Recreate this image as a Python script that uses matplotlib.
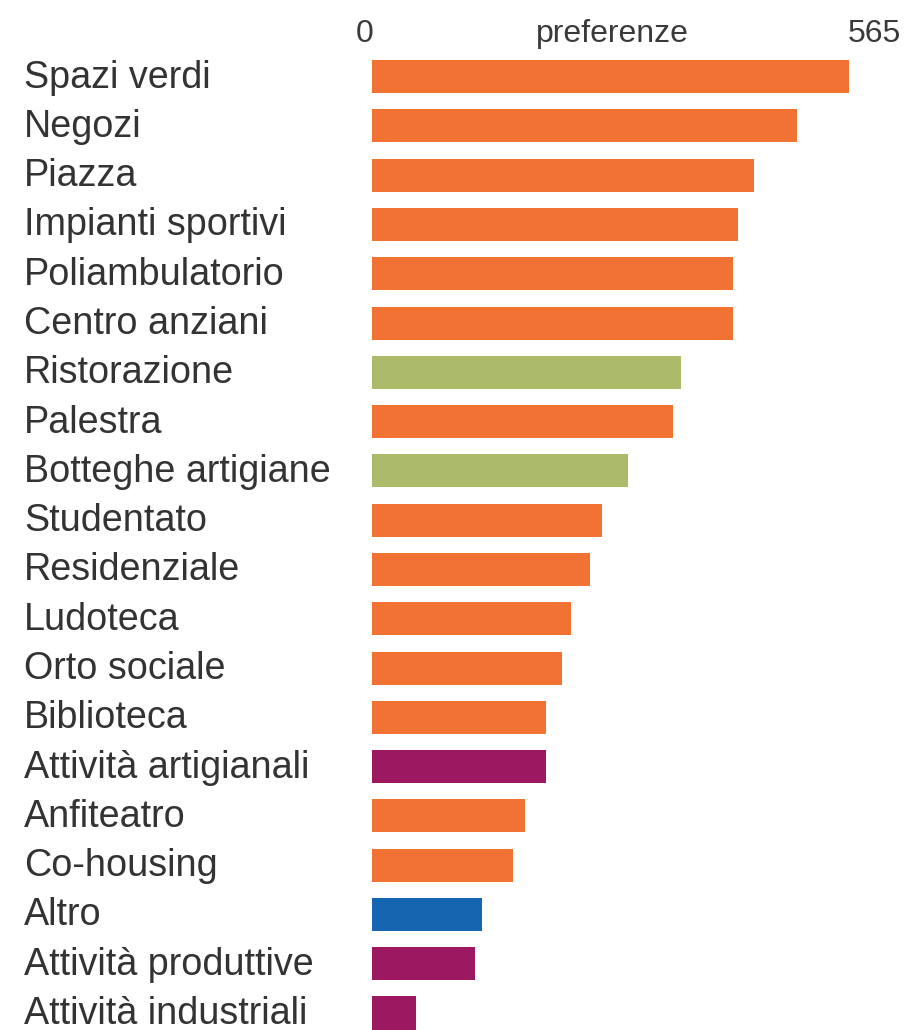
import numpy as np
import matplotlib.pyplot as plt

labels = ['Spazi verdi', 'Negozi', 'Piazza', 'Impianti sportivi', 'Poliambulatorio',
          'Centro anziani', 'Ristorazione', 'Palestra', 'Botteghe artigiane', 'Studentato',
          'Residenziale', 'Ludoteca', 'Orto sociale', 'Biblioteca', 'Attività artigianali',
          'Anfiteatro', 'Co-housing', 'Altro', 'Attività produttive', 'Attività industriali']
values = [565, 503, 452, 433, 428, 428, 366, 357, 303, 272,
          258, 236, 225, 206, 206, 181, 167, 130, 122, 52]
groups = ['s', 's', 's', 's', 's', 's', 'c', 's', 'c', 's',
          's', 's', 's', 's', 'p', 's', 's', 'a', 'p', 'p']
group_colors = {'s': '#F27234', 'c': '#ABBB69', 'p': '#9C1860', 'a': '#1565B0'}
max_val = 565

fig = plt.figure(figsize=(9.09, 10.30), dpi=100)
ax = fig.add_axes([372 / 909, 0, 477 / 909, 978 / 1030])

y = np.arange(len(labels))
ax.barh(y, values, height=0.67, color=[group_colors[g] for g in groups])
ax.set_xlim(0, max_val)
ax.set_ylim(19.345, -0.5)
ax.axis('off')

font = 'Liberation Sans'
# category labels sit at the left edge of the figure
for i, lab in enumerate(labels):
    ax.text(-(372 - 24) / 477 * max_val, i + 0.02, lab, fontsize=27.2, family=font,
            color='#333333', ha='left', va='center', clip_on=False)

fig.text(365 / 909, 1 - 34 / 1030, '0', fontsize=23, family=font, color='#3a3a3a',
         ha='center', va='center')
fig.text(612 / 909, 1 - 34 / 1030, 'preferenze', fontsize=23, family=font, color='#3a3a3a',
         ha='center', va='center')
fig.text(901 / 909, 1 - 34 / 1030, str(max_val), fontsize=23, family=font, color='#3a3a3a',
         ha='right', va='center')

fig.savefig('out.png', dpi=100)
